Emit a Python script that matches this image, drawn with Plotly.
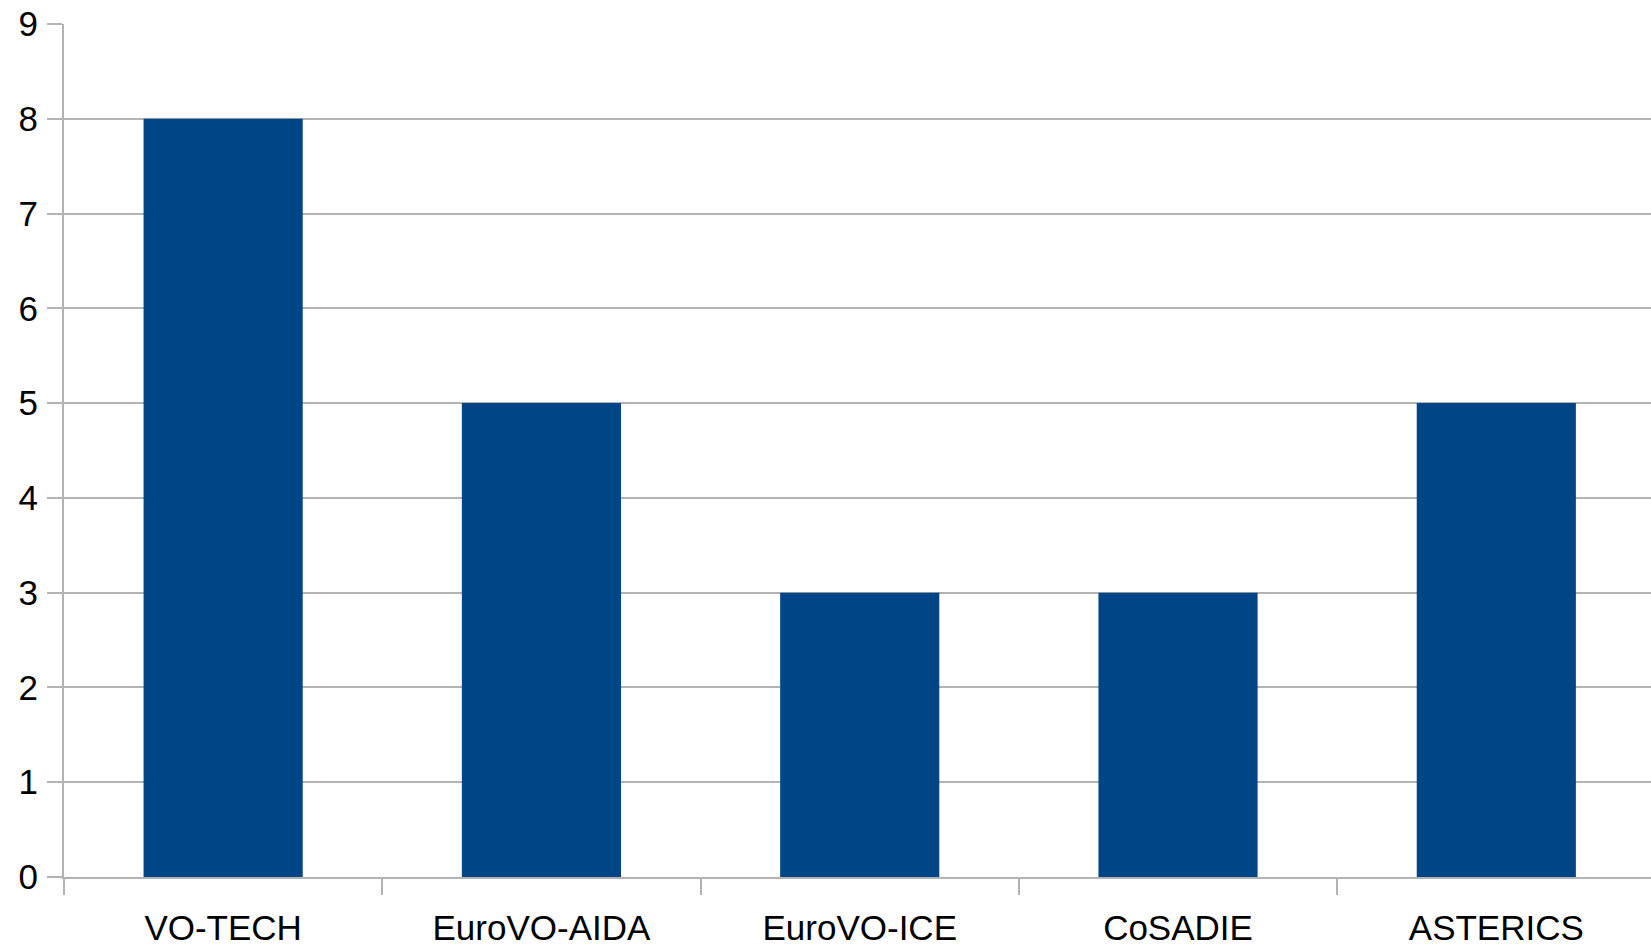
import plotly.graph_objects as go

categories = ["VO-TECH", "EuroVO-AIDA", "EuroVO-ICE", "CoSADIE", "ASTERICS"]
values = [8, 5, 3, 3, 5]
y_ticks = list(range(0, 10))

fig = go.Figure(go.Bar(x=categories, y=values, marker=dict(color="#004586", line=dict(width=0))))

fig.update_layout(
    width=1651, height=947,
    margin=dict(l=64, r=0, t=24, b=67, pad=0),
    paper_bgcolor="white", plot_bgcolor="white",
    bargap=0.5,
    showlegend=False,
    font=dict(family="Liberation Sans, Arial, sans-serif", size=35, color="#000000"),
)
fig.update_xaxes(
    type="category", range=[-0.5, 4.486],
    showline=True, linecolor="#b3b3b3", linewidth=2,
    ticks="outside", tickson="boundaries", ticklen=16, tickcolor="#b3b3b3", tickwidth=2,
    showgrid=False, zeroline=False, ticklabelstandoff=19,
)
fig.update_yaxes(
    range=[0, 9], tickvals=y_ticks,
    showline=True, linecolor="#b3b3b3", linewidth=2,
    ticks="outside", ticklen=15, tickcolor="#b3b3b3", tickwidth=2,
    showgrid=True, gridcolor="#b3b3b3", gridwidth=2, zeroline=False,
    ticklabelstandoff=2,
)
fig.write_html("out.html")
